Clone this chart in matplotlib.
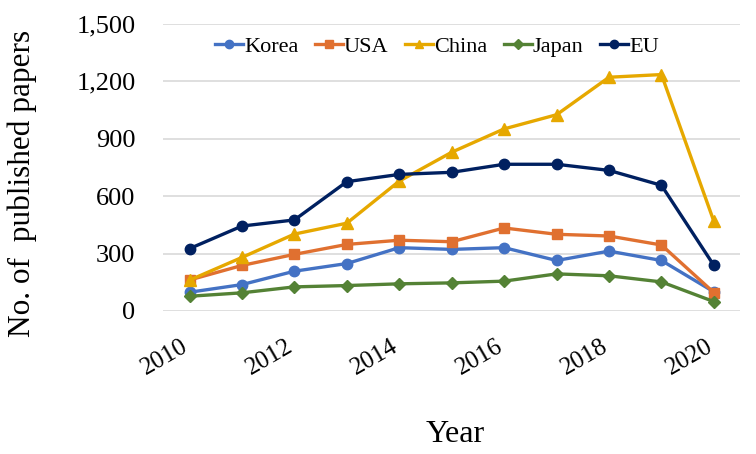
import matplotlib.pyplot as plt
from matplotlib.ticker import FuncFormatter

years = [2010, 2011, 2012, 2013, 2014, 2015, 2016, 2017, 2018, 2019, 2020]
korea = [98, 138, 208, 248, 331, 322, 331, 264, 313, 264, 100]
usa = [162, 238, 296, 348, 370, 362, 434, 401, 392, 345, 96]
china = [161, 280, 402, 459, 679, 830, 952, 1026, 1222, 1236, 468]
japan = [77, 95, 126, 133, 142, 147, 156, 194, 184, 152, 49]
eu = [326, 444, 476, 676, 714, 725, 767, 767, 735, 657, 238]

plt.rcParams['font.family'] = ['Liberation Serif', 'DejaVu Serif']

fig = plt.figure(figsize=(7.56, 4.54), dpi=100)
ax = fig.add_axes([0.216, 0.315, 0.763, 0.632])

lw = 2.4
ax.plot(years, korea, color='#4472C4', marker='o', ms=7.5, lw=lw, label='Korea')
ax.plot(years, usa, color='#E07030', marker='s', ms=7.5, lw=lw, label='USA')
ax.plot(years, china, color='#E6A800', marker='^', ms=8, lw=lw, label='China')
ax.plot(years, japan, color='#548235', marker='D', ms=6, lw=lw, label='Japan')
ax.plot(years, eu, color='#002060', marker='o', ms=7.5, lw=lw, label='EU')

ax.set_xlim(2009.5, 2020.5)
ax.set_ylim(0, 1500)
ax.set_yticks([0, 300, 600, 900, 1200, 1500])
ax.yaxis.set_major_formatter(FuncFormatter(lambda v, p: f'{int(v):,}'))
ax.set_xticks([2010, 2012, 2014, 2016, 2018, 2020])
ax.grid(axis='y', color='#d9d9d9', lw=1.2)
ax.set_axisbelow(True)
for s in ax.spines.values():
    s.set_visible(False)
ax.tick_params(axis='y', length=0, labelsize=19, pad=20)
ax.tick_params(axis='x', length=0, labelsize=18, pad=28)
plt.setp(ax.get_xticklabels(), rotation=30, ha='right', va='baseline', rotation_mode='anchor')

# axis titles placed like the original
fig.text(22 / 756, 1 - 183 / 454, 'No. of  published papers', fontsize=22.5,
         rotation=90, ha='center', va='center')
fig.text(455 / 756, 1 - 435 / 454, 'Year', fontsize=23, ha='center', va='center')

fig.legend(loc='center', bbox_to_anchor=(437 / 756, 1 - 47 / 454), ncol=5, frameon=False,
           fontsize=16, handlelength=1.25, handletextpad=0.05, columnspacing=0.75,
           markerscale=0.8, borderaxespad=0)

fig.savefig('out.png', dpi=100)
